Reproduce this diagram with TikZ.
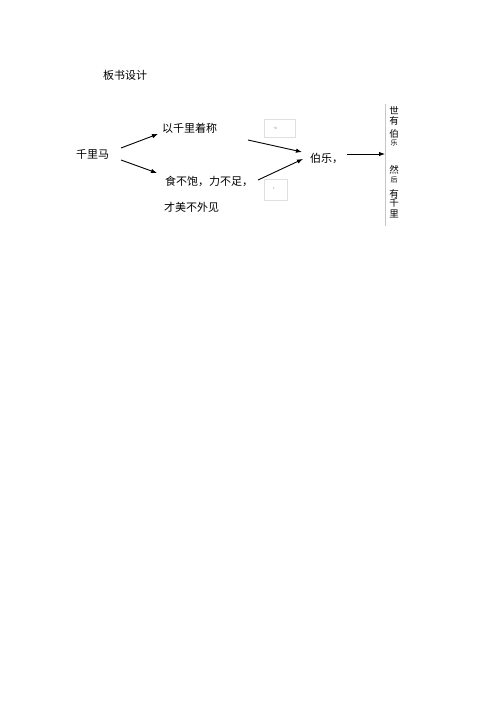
\documentclass[tikz,border=0pt]{standalone}
\usepackage{fontspec}
\newfontfamily\cjk{Noto Sans CJK SC}
\usetikzlibrary{arrows.meta}
\begin{document}
\begin{tikzpicture}[x=1pt,y=-1pt,
  txt/.style={font=\cjk\fontsize{11}{13}\selectfont, inner sep=0pt, anchor=west},
  arr/.style={-{Latex[length=6pt,width=4.5pt]}, line width=0.9pt},
  vch/.style={font=\cjk\fontsize{9.5}{10}\selectfont, inner sep=0pt},
  vsm/.style={font=\cjk\fontsize{7}{8}\selectfont, inner sep=0pt},
  tinybox/.style={draw=gray!25, line width=0.4pt},
  tinytxt/.style={font=\cjk\fontsize{3}{3}\selectfont, inner sep=0pt, text=gray}]
\useasboundingbox (0,0) rectangle (500,708);
\fill[white] (0,0) rectangle (500,708);
% texts
\node[txt] (title) at (103,75) {板书设计};
\node[txt] (qlm) at (76,154) {千里马};
\node[txt] (yiq) at (162,128) {以千里着称};
\node[txt] (shi) at (165,181) {食不饱，力不足，};
\node[txt] (cai) at (164,207) {才美不外见};
\node[txt] (bl) at (310,158) {伯乐，};
% arrow endpoints
\coordinate (a1s) at (121,148); \coordinate (a1e) at (158,134);
\coordinate (a2s) at (121,160); \coordinate (a2e) at (157,173);
\coordinate (a3s) at (248,140); \coordinate (a3e) at (302,152);
\coordinate (a4s) at (258,180); \coordinate (a4e) at (303,159);
\coordinate (a5s) at (347,154); \coordinate (a5e) at (385,154);
\draw[arr] (a1s) -- (a1e);
\draw[arr] (a2s) -- (a2e);
\draw[arr] (a3s) -- (a3e);
\draw[arr] (a4s) -- (a4e);
\draw[arr] (a5s) -- (a5e);
% small boxes
\draw[tinybox] (264,119) rectangle (295,137);
\node[tinytxt] (b1) at (275,128) {+8};
\draw[tinybox] (264,179) rectangle (287,200);
\node[tinytxt] (b2) at (274,188) {1};
% vertical text with left rule
\coordinate (vt) at (385,104); \coordinate (vb) at (385,226);
\draw[gray!45, line width=0.6pt] (vt) -- (vb);
\node[vch] (v1) at (394,111) {世};
\node[vch] (v2) at (394,120.5) {有};
\node[vch] (v3) at (394,133.5) {伯};
\node[vsm] (v4) at (394,142.5) {乐};
\node[vch] (v5) at (394,170) {然};
\node[vsm] (v6) at (394,179.5) {后};
\node[vch] (v7) at (394,194) {有};
\node[vch] (v8) at (394,203) {千};
\node[vch] (v9) at (394,214) {里};
\end{tikzpicture}
\end{document}
